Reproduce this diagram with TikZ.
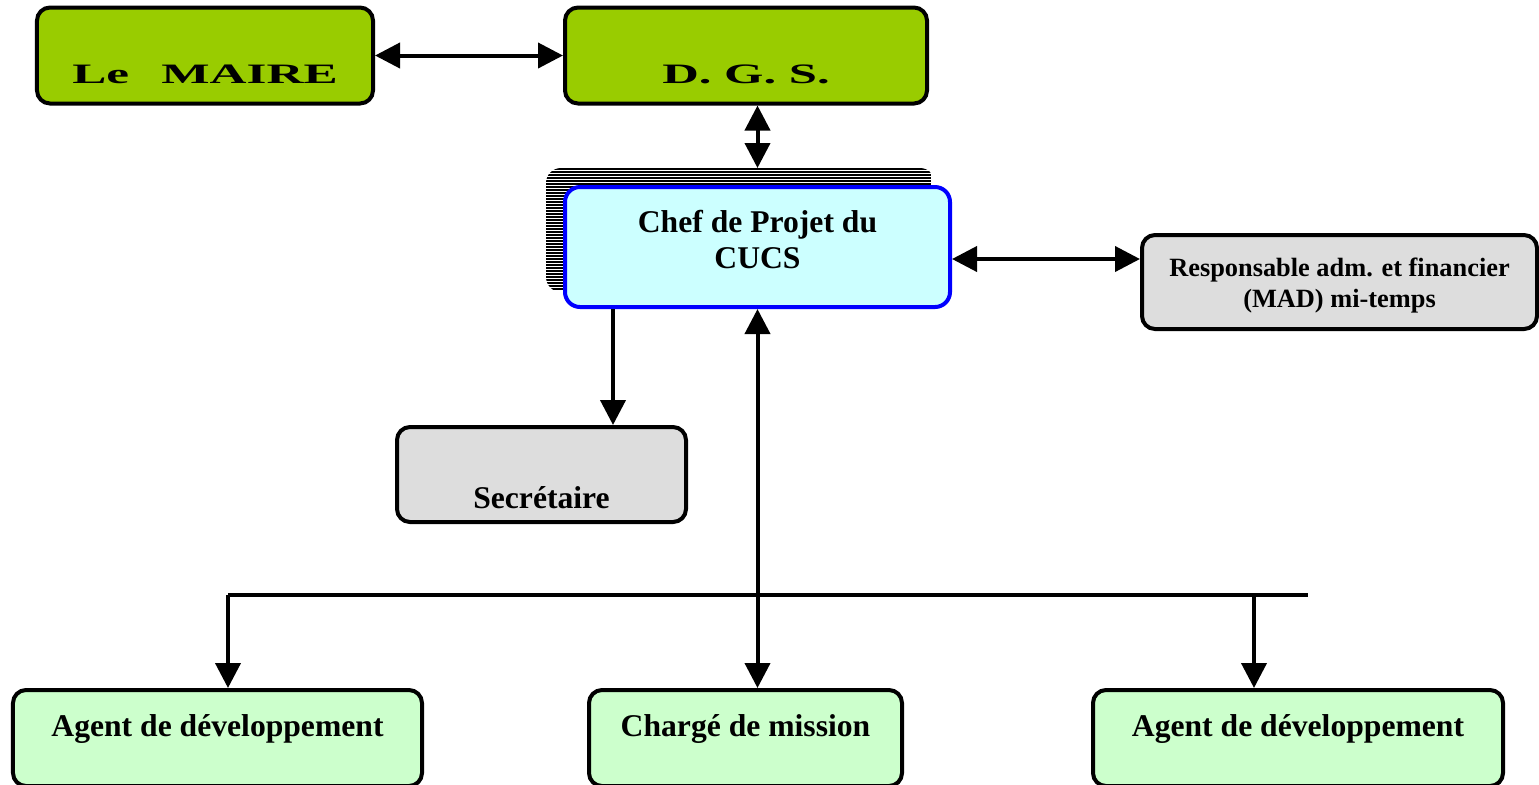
\documentclass[tikz,border=0pt]{standalone}
\usepackage{fontspec}
\setmainfont{Liberation Serif}
\usetikzlibrary{arrows.meta,calc}
\definecolor{topgreen}{HTML}{99CC00}
\definecolor{chefcyan}{HTML}{CCFFFF}
\definecolor{staffgray}{HTML}{DDDDDD}
\definecolor{agentgreen}{HTML}{CCFFCC}

\begin{document}
\begin{tikzpicture}[
  x=0.2mm, y=-0.2mm,
  line width=0.8mm,
  >={Triangle[length=5mm,width=5mm]},
  ]
  \tikzstyle{box}=[draw, rounded corners=2.6mm, inner sep=0pt, align=center,
                   font=\bfseries\fontsize{18}{20.4}\selectfont]
  \tikzstyle{top box}=[box, fill=topgreen, minimum height=19.2mm,
                       font=\bfseries\fontsize{16}{18}\selectfont,
                       text height=11mm, text depth=0mm]
  \tikzstyle{staff box}=[box, fill=staffgray]
  \tikzstyle{agent box}=[box, fill=agentgreen, minimum height=19.2mm,
                         text height=4mm, text depth=4.8mm]
  \useasboundingbox (0,0) rectangle (1539,784);

  % direction
  \node(maire)[top box, minimum width=67.2mm] at (205,55.5)
      {\scalebox{1.82}[1]{Le\hspace{0.63em}MAIRE}};
  \node(dgs)[top box, minimum width=72.4mm] at (746,55.5)
      {\scalebox{1.8}[1]{D. G. S.}};

  % chef de projet, with its striped shadow
  \node(chefshadow)[minimum width=77mm, minimum height=24mm] at (740.5,230) {};
  \begin{scope}
    \clip[rounded corners=3mm] (chefshadow.north west) rectangle (chefshadow.south east);
    \foreach \k in {0,3,...,120}
      \draw[line width=0.42mm] (chefshadow.north west) ++(0,\k+1) -- ++(385,0);
  \end{scope}
  \node(chef)[box, draw=blue, fill=chefcyan, rounded corners=3mm,
      minimum width=77mm, minimum height=24mm,
      text height=8.4mm, text depth=0mm] at (757.5,247)
      {Chef de Projet du\\CUCS};

  \node(resp)[staff box, minimum width=79mm, minimum height=18.8mm,
      font=\bfseries\fontsize{15}{17.4}\selectfont,
      text height=10mm, text depth=0mm] at (1339.5,282)
      {Responsable adm. et financier\\(MAD) mi-temps};
  \node(secr)[staff box, minimum width=57.8mm, minimum height=19mm,
      text height=13.4mm, text depth=0mm] at (541.5,474.5) {Secrétaire};

  % equipe
  \node(agentl)[agent box, minimum width=81.8mm] at (217.5,738) {Agent de développement};
  \node(charge)[agent box, minimum width=62.6mm] at (745.5,738) {Chargé de mission};
  \node(agentr)[agent box, minimum width=82mm] at (1298,738) {Agent de développement};

  \coordinate(secrin) at ([xshift=14.3mm]secr.north);
  \coordinate(busl) at (228,595);
  \coordinate(busr) at (1308,595);
  \coordinate(busd) at (1254,595);

  \draw[<->] (maire.east) -- (dgs.west);
  \draw[<->] (chef.north |- dgs.south) -- (chef.north |- chefshadow.north);
  \draw[<->] ([yshift=-2.4mm]chef.east) -- ([yshift=-2.4mm]chef.east -| resp.west);
  \draw[->] (chef.south -| secrin) -- (secrin);
  \draw[<->] (chef.south) -- (chef.south |- charge.north);
  \draw (busl) -- (busr);
  \draw[->] (busl) -- (busl |- agentl.north);
  \draw[->] (busd) -- (busd |- agentr.north);
\end{tikzpicture}
\end{document}
